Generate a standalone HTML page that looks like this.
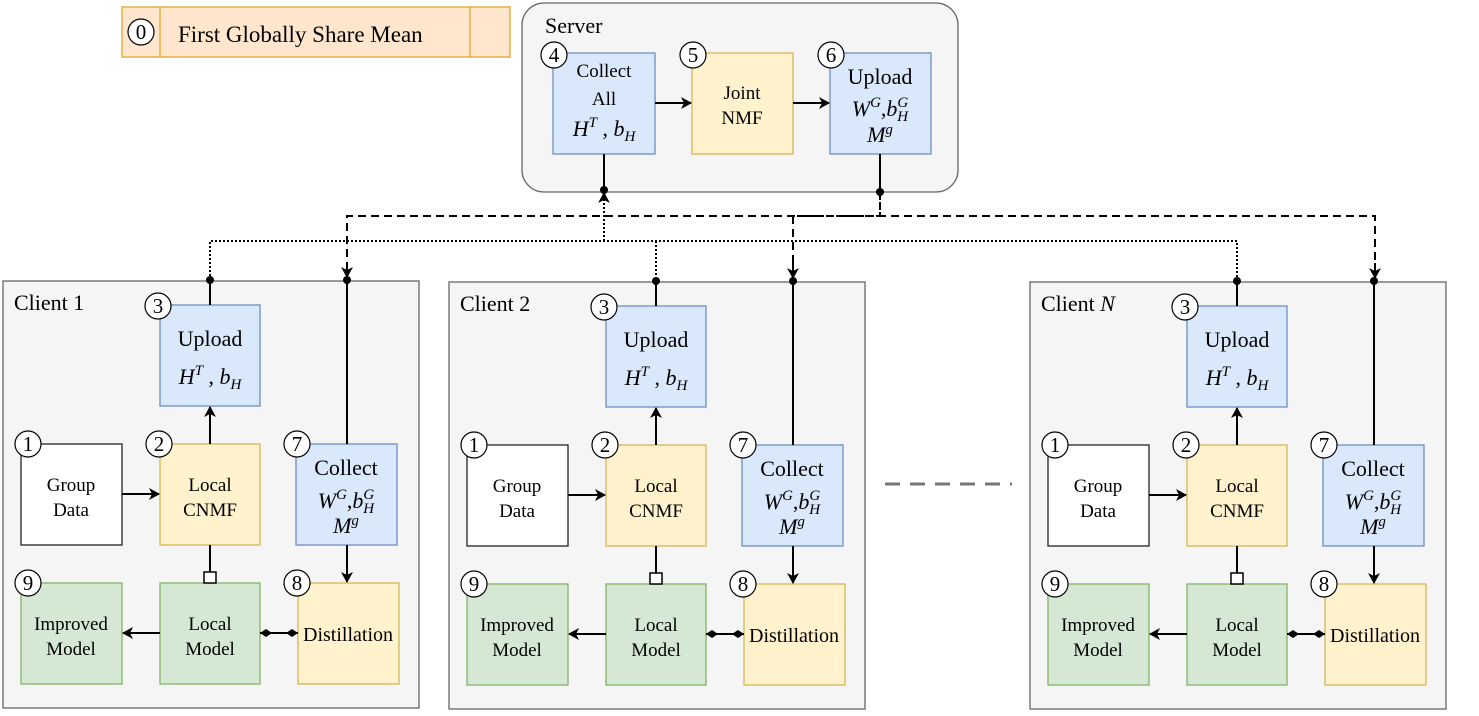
<!DOCTYPE html>
<html><head><meta charset="utf-8"><style>
html,body{margin:0;padding:0;background:#fff;}
svg{display:block;font-family:"Liberation Serif",serif;}
</style></head><body>
<svg width="1479" height="716" viewBox="0 0 1479 716" xmlns="http://www.w3.org/2000/svg" font-family="Liberation Serif, serif">
<defs>
<marker id="ar" markerWidth="12" markerHeight="12" refX="10" refY="6" orient="auto" markerUnits="userSpaceOnUse">
<path d="M0,0 L11,6 L0,12 L3,6 Z" fill="#000"/></marker>
<g id="client">
 <rect x="3" y="281" width="416" height="427" fill="#f5f5f5" stroke="#666" stroke-width="1.3"/>
 <rect x="160" y="305" width="100" height="101" fill="#dae8fc" stroke="#6c8ebf" stroke-width="1.3"/>
 <rect x="21" y="444" width="101" height="101" fill="#fff" stroke="#222" stroke-width="1.3"/>
 <rect x="160" y="444" width="100" height="101" fill="#fff2cc" stroke="#d6b656" stroke-width="1.3"/>
 <rect x="296" y="444" width="101" height="101" fill="#dae8fc" stroke="#6c8ebf" stroke-width="1.3"/>
 <rect x="21" y="583" width="101" height="101" fill="#d5e8d4" stroke="#82b366" stroke-width="1.3"/>
 <rect x="160" y="583" width="100" height="101" fill="#d5e8d4" stroke="#82b366" stroke-width="1.3"/>
 <rect x="298" y="583" width="101" height="101" fill="#fff2cc" stroke="#d6b656" stroke-width="1.3"/>
 <g text-anchor="middle" fill="#000">
  <text x="210" y="346" font-size="22">Upload</text>
  <text x="210" y="384" font-size="22" font-style="italic">H<tspan dy="-9" font-size="15">T</tspan><tspan dy="9" font-style="normal"> , </tspan>b<tspan dy="5" font-size="15">H</tspan></text>
  <text x="71" y="491" font-size="19">Group</text><text x="71" y="516" font-size="19">Data</text>
  <text x="210" y="491" font-size="19">Local</text><text x="210" y="516" font-size="19">CNMF</text>
  <text x="346" y="475" font-size="22">Collect</text>
  <text x="346" y="508" font-size="22" font-style="italic">W<tspan dy="-9" font-size="15">G</tspan><tspan dy="9" font-style="normal">,</tspan>b<tspan dy="-9" font-size="15">G</tspan><tspan dx="-11" dy="14" font-size="15">H</tspan></text>
  <text x="346" y="533" font-size="22" font-style="italic">M<tspan dy="-8" font-size="15">g</tspan></text>
  <text x="71" y="630" font-size="19">Improved</text><text x="71" y="655" font-size="19">Model</text>
  <text x="210" y="630" font-size="19">Local</text><text x="210" y="655" font-size="19">Model</text>
  <text x="348" y="641" font-size="20">Distillation</text>
 </g>
 <g stroke="#000" stroke-width="2" fill="none">
  <line x1="122" y1="494" x2="159" y2="494" marker-end="url(#ar)"/>
  <line x1="210" y1="444" x2="210" y2="407" marker-end="url(#ar)"/>
  <line x1="347" y1="545" x2="347" y2="582" marker-end="url(#ar)"/>
  <line x1="160" y1="633" x2="123" y2="633" marker-end="url(#ar)"/>
  <line x1="210" y1="545" x2="210" y2="572"/>
  <line x1="260" y1="633" x2="298" y2="633"/>
  <line x1="210" y1="280" x2="210" y2="305"/>
  <line x1="347" y1="280" x2="347" y2="444"/>
 </g>
 <rect x="204" y="572" width="12" height="11" fill="#fff" stroke="#000" stroke-width="1.5"/>
 <path d="M260,633 L266,629 L272,633 L266,637Z M298,633 L292,629 L286,633 L292,637Z" fill="#000"/>
 <circle cx="210" cy="280" r="4" fill="#000"/><circle cx="347" cy="280" r="4" fill="#000"/>
 <g fill="#fff" stroke="#000" stroke-width="1.2">
  <circle cx="158" cy="306" r="13"/><circle cx="28" cy="444" r="13"/><circle cx="159" cy="444" r="13"/>
  <circle cx="297" cy="444" r="13"/><circle cx="28" cy="583" r="13"/><circle cx="297" cy="583" r="13"/>
 </g>
 <g text-anchor="middle" font-size="21" fill="#000">
  <text x="158" y="313">3</text><text x="28" y="451">1</text><text x="159" y="451">2</text>
  <text x="297" y="451">7</text><text x="28" y="590">9</text><text x="297" y="590">8</text>
 </g>
</g>
</defs>

<rect x="122" y="7" width="388" height="50" fill="#ffe6cc" stroke="#e0a82e" stroke-width="1.3"/>
<line x1="160" y1="7" x2="160" y2="57" stroke="#e0a82e" stroke-width="1.3"/>
<line x1="470" y1="7" x2="470" y2="57" stroke="#e0a82e" stroke-width="1.3"/>
<circle cx="141" cy="32" r="13" fill="#fff" stroke="#000" stroke-width="1.2"/>
<text x="141" y="39" text-anchor="middle" font-size="21">0</text>
<text x="178" y="42" font-size="23">First Globally Share Mean</text>

<rect x="522" y="3" width="436" height="189" rx="22" fill="#f5f5f5" stroke="#666" stroke-width="1.3"/>
<text x="545" y="33" font-size="22">Server</text>
<rect x="553" y="53" width="102" height="101" fill="#dae8fc" stroke="#6c8ebf" stroke-width="1.3"/>
<rect x="692" y="53" width="101" height="101" fill="#fff2cc" stroke="#d6b656" stroke-width="1.3"/>
<rect x="830" y="53" width="101" height="101" fill="#dae8fc" stroke="#6c8ebf" stroke-width="1.3"/>
<g text-anchor="middle">
 <text x="604" y="77" font-size="19">Collect</text>
 <text x="604" y="105" font-size="19">All</text>
 <text x="604" y="136" font-size="22" font-style="italic">H<tspan dy="-9" font-size="15">T</tspan><tspan dy="9" font-style="normal"> , </tspan>b<tspan dy="5" font-size="15">H</tspan></text>
 <text x="742" y="99" font-size="19">Joint</text><text x="742" y="124" font-size="19">NMF</text>
 <text x="880" y="84" font-size="22">Upload</text>
 <text x="880" y="116" font-size="22" font-style="italic">W<tspan dy="-9" font-size="15">G</tspan><tspan dy="9" font-style="normal">,</tspan>b<tspan dy="-9" font-size="15">G</tspan><tspan dx="-11" dy="14" font-size="15">H</tspan></text>
 <text x="880" y="142" font-size="22" font-style="italic">M<tspan dy="-8" font-size="15">g</tspan></text>
</g>
<g stroke="#000" stroke-width="2" fill="none">
 <line x1="655" y1="103" x2="691" y2="103" marker-end="url(#ar)"/>
 <line x1="793" y1="103" x2="829" y2="103" marker-end="url(#ar)"/>
 <line x1="604" y1="154" x2="604" y2="190"/>
 <line x1="880" y1="154" x2="880" y2="192"/>
</g>
<g fill="#fff" stroke="#000" stroke-width="1.2">
 <circle cx="554" cy="55" r="13"/><circle cx="693" cy="55" r="13"/><circle cx="831" cy="55" r="13"/>
</g>
<g text-anchor="middle" font-size="21">
 <text x="554" y="62">4</text><text x="693" y="62">5</text><text x="831" y="62">6</text>
</g>

<g stroke="#000" stroke-width="2" fill="none">
 <path d="M210,280 V241 H1237 V280 M656,241 V280" stroke-dasharray="2,2"/>
 <path d="M604,241 V193" stroke-dasharray="2,2" marker-end="url(#ar)"/>
 <path d="M347,270 V216 H1375 V270 M793,216 V270" stroke-dasharray="8,5"/>
 <path d="M880,192 V216 H797" stroke-dasharray="8,2"/>
 <line x1="347" y1="262" x2="347" y2="277" marker-end="url(#ar)"/>
 <line x1="793" y1="263" x2="793" y2="278" marker-end="url(#ar)"/>
 <line x1="1375" y1="263" x2="1375" y2="278" marker-end="url(#ar)"/>
</g>
<circle cx="604" cy="190" r="4"/><circle cx="880" cy="192" r="4"/>

<use href="#client"/>
<use href="#client" transform="translate(446,1)"/>
<use href="#client" transform="translate(1027,1)"/>
<text x="14" y="310" font-size="22">Client 1</text>
<text x="460" y="311" font-size="22">Client 2</text>
<text x="1041" y="311" font-size="22">Client <tspan font-style="italic">N</tspan></text>

<line x1="885" y1="484" x2="1012" y2="484" stroke="#777" stroke-width="3" stroke-dasharray="15,10"/>
</svg>
</body></html>
